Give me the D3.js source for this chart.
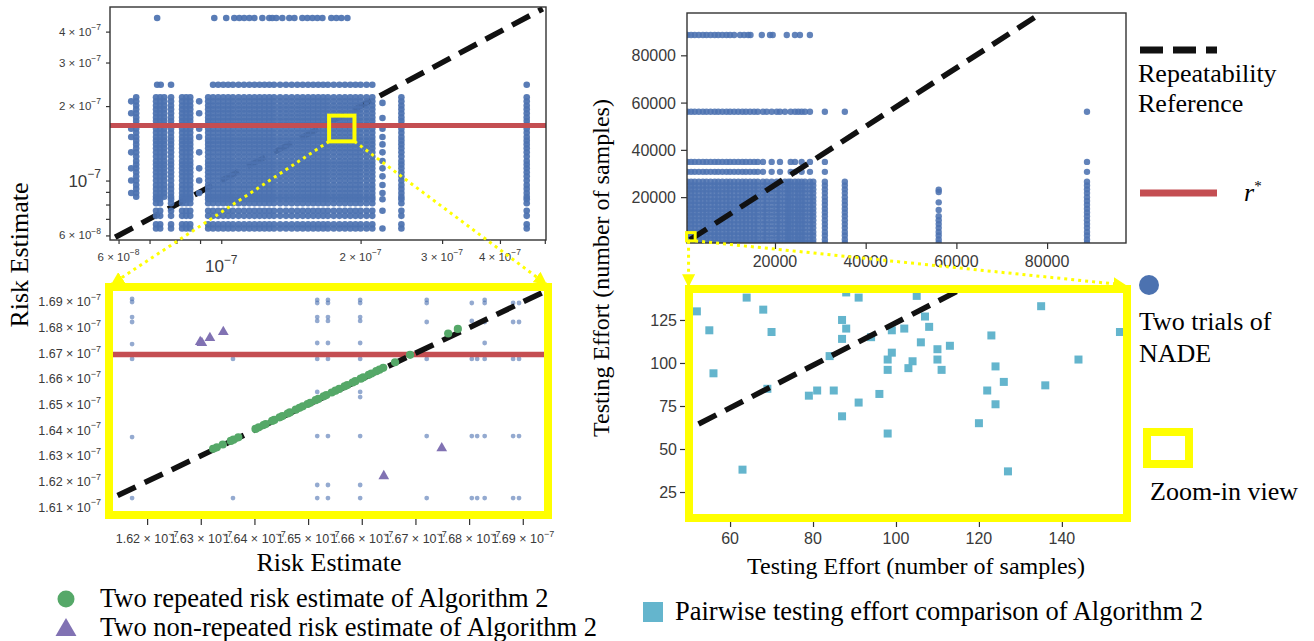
<!DOCTYPE html>
<html><head><meta charset="utf-8">
<script src="https://cdn.jsdelivr.net/npm/d3@7"></script>
<style>body{margin:0;background:#fff;}svg{display:block;}</style>
</head><body>
<svg id="c" width="1314" height="641"></svg>
<script>
// ================= DATA =================
// Risk estimates are in units of 1e-7
const rStar = 1.6695;
const riskDomain = [0.575, 5.03];
const riskTickValuesX = [0.6, 0.7, 0.8, 0.9, 1, 2, 3, 4, 5];
const riskTickValuesY = [0.6, 0.7, 0.8, 0.9, 1, 2, 3, 4];
const riskTickLabels = [0.6, 1, 2, 3, 4];
const riskRefLine = [0.59, 4.95];

// NADE two-trial risk estimates (trial 1 -> x, trial 2 -> y), discrete levels
const coreTrial1 = [0.96, 0.985, 1.01, 1.035, 1.06, 1.09, 1.12, 1.15, 1.18, 1.21, 1.24, 1.27, 1.30, 1.34, 1.38, 1.42, 1.46, 1.50, 1.54, 1.58, 1.62, 1.66, 1.70, 1.75, 1.80, 1.85, 1.90, 1.95, 2.00, 2.06, 2.12];
const coreTrial2 = [0.86, 0.89, 0.925, 0.96, 1.0, 1.04, 1.08, 1.12, 1.16, 1.2, 1.25, 1.3, 1.35, 1.4, 1.45, 1.5, 1.56, 1.62, 1.68, 1.74, 1.8, 1.87, 1.94, 2.01, 2.09, 2.17];
const lowTrial2 = [0.84, 0.81, 0.755, 0.72, 0.665, 0.64];
const leftTrial1 = [0.655, 0.723, 0.738, 0.753, 0.779, 0.823, 0.840, 0.857, 0.937];
const leftLowTrial1 = [0.723, 0.738, 0.779, 0.823, 0.840, 0.857, 0.937];
const sparseTrial1 = [0.639, 0.896];
const sparseTrial2 = [0.89, 1.0, 1.12, 1.3, 1.5, 1.62, 1.87, 2.09];
const topRowTrial1 = [0.727, 0.966, 1.025, 1.067, 1.094, 1.121, 1.15, 1.179, 1.227, 1.27, 1.289, 1.315, 1.355, 1.403, 1.439, 1.497, 1.535, 1.574, 1.613, 1.654, 1.729, 1.773, 1.818, 1.873];
const topRowTrial2 = [4.54];
const midRowTrial1 = [0.727, 0.74, 0.779, 4.57];
const midRowTrial2 = [2.44];
const sparseRightTrial1 = [2.23];
const sparseRightTrial2 = [2.06, 1.79, 1.62, 1.5, 1.4, 1.3, 1.2, 1.12, 1.04, 0.96, 0.89, 0.84, 0.755, 0.64];
const denseRightTrial1 = [2.45, 4.57];
const zoomBoxTL = {x: [1.71, 1.94], y: [1.44, 1.83]};

// Zoom-in view of risk estimates
const zoomDomainX = [1.6129, 1.6947];
const zoomDomainY = [1.6069, 1.69585];
const zoomTicksX = [1.62, 1.63, 1.64, 1.65, 1.66, 1.67, 1.68, 1.69];
const zoomTicksY = [1.61, 1.62, 1.63, 1.64, 1.65, 1.66, 1.67, 1.68, 1.69];
const zoomRefLine = [1.6145, 1.6940];
const zoomBlueTrial1 = [1.6172, 1.6360, 1.6517, 1.6537, 1.6597, 1.6721, 1.6805, 1.6815, 1.6829, 1.6882, 1.6893];
const zoomBlueTrial2 = [
  [1.6912, 1.6900, 1.6841, 1.6822, 1.6736, 1.6678, 1.6373, 1.6135],
  [1.6678, 1.6135],
  [1.6908, 1.6896, 1.6841, 1.6826, 1.6740, 1.6678, 1.6549, 1.6377, 1.6186, 1.6135],
  [1.6908, 1.6896, 1.6841, 1.6826, 1.6740, 1.6678, 1.6377, 1.6186, 1.6135],
  [1.6908, 1.6896, 1.6841, 1.6826, 1.6740, 1.6678, 1.6549, 1.6529, 1.6377, 1.6186, 1.6135],
  [1.6908, 1.6896, 1.6822, 1.6678, 1.6377, 1.6135],
  [1.6896, 1.6826, 1.6678, 1.6377, 1.6135],
  [1.6678, 1.6377, 1.6135],
  [1.6908, 1.6896, 1.6822, 1.6740, 1.6678, 1.6377, 1.6135],
  [1.6896, 1.6822, 1.6678, 1.6377, 1.6135],
  [1.6896, 1.6822, 1.6678, 1.6377, 1.6135]
];
const repeatedTrial1 = [1.6323, 1.6330, 1.6341, 1.6356, 1.6361, 1.6370, 1.6402, 1.6408, 1.6417, 1.6421, 1.6433, 1.6437, 1.6447, 1.6452, 1.6462, 1.6466, 1.6477, 1.6484, 1.6490, 1.6499, 1.6504, 1.6514, 1.6519, 1.6529, 1.6534, 1.6544, 1.6551, 1.6558, 1.6568, 1.6573, 1.6583, 1.6588, 1.6598, 1.6603, 1.6613, 1.6618, 1.6627, 1.6633, 1.6640, 1.6662, 1.6690, 1.6761, 1.6779];
const repeatedTrial2 = [1.6327, 1.6333, 1.6344, 1.6358, 1.6363, 1.6372, 1.6405, 1.6411, 1.6420, 1.6424, 1.6436, 1.6440, 1.6450, 1.6455, 1.6465, 1.6469, 1.6480, 1.6487, 1.6493, 1.6502, 1.6507, 1.6517, 1.6522, 1.6532, 1.6537, 1.6547, 1.6554, 1.6561, 1.6571, 1.6576, 1.6586, 1.6591, 1.6601, 1.6606, 1.6616, 1.6621, 1.6630, 1.6636, 1.6643, 1.6665, 1.6694, 1.6777, 1.6795];
const nonRepeatedTrial1 = [1.6299, 1.6302, 1.6317, 1.6342, 1.6641, 1.6749];
const nonRepeatedTrial2 = [1.6744, 1.6740, 1.6760, 1.6783, 1.6221, 1.6330];

// Testing effort (number of samples), two trials of NADE
const effortDomainX = [600, 97400];
const effortDomainY = [600, 97900];
const effortTicks = [20000, 40000, 60000, 80000];
const effortRefLine = [[1250, 1950], [77800, 96700]];
const effortDenseT1 = [700, 1500, 2300, 3200, 4100, 4900, 5800, 6700, 7500, 8400, 9300, 10100, 11000, 11900, 12800, 13600, 14500, 15400, 16200];
const effortDenseT2 = [700, 2100, 3800, 5300, 7000, 8600, 10200, 11900, 13500, 15100, 16800, 18400, 20000, 21700, 23300, 24900, 26500];
const effortMidT1 = [17350, 18170, 19270, 20380, 21100, 22200, 22930, 23460, 24410, 25140, 25880, 26610, 27710, 28440];
const effortHighT2 = [30700, 34900];
const effortHighRowT1 = [17350, 19270, 21100, 23460, 24410, 25880, 27710, 31000];
const effort56RowT1 = [17350, 18170, 19270, 20380, 21100, 22200, 23460, 24410, 25140, 25880, 26610, 27710, 31000, 35400, 88800];
const effort88RowT1 = [700, 1500, 2300, 3200, 4100, 4900, 5800, 6700, 7500, 8400, 9300, 10100, 11000, 12300, 13200, 14100, 14600, 17100, 18900, 19500, 22600, 24400, 25500, 27700];
const effortFarT1 = [31000, 35400, 88800];
const effort56ColT2 = [700, 2100, 3800, 5300, 7000, 8600, 10200, 11900, 14600, 17800, 22200, 23100];
const effortZoomBox = {x: [500, 2400], y: [1500, 5000]};

// Pairwise testing effort comparison of Algorithm 2
const pairDomainX = [50.1, 155.7];
const pairDomainY = [9.9, 143];
const pairTicksX = [60, 80, 100, 120, 140];
const pairTicksY = [25, 50, 75, 100, 125];
const pairRefLine = [[52.4, 64.5], [114.6, 141.5]];
const pairTrial1 = [52, 55, 56, 64, 68, 70, 63, 69, 79, 81, 85, 84, 87, 88, 87, 87, 88, 91, 91, 94, 105, 107, 108, 99, 102, 106, 110, 113, 99, 98, 98, 104, 103, 110, 111, 96, 98, 123, 124, 126, 122, 124, 120, 127, 135, 136, 144, 154];
const pairTrial2 = [130, 119, 94, 138, 131, 118, 38, 85, 81, 84, 84, 104, 125, 120, 114, 69, 141, 138, 77, 115, 139, 127, 121, 119, 120, 112, 108, 110, 106, 102, 96, 101, 97, 102, 96, 82, 59, 116, 98, 89, 84, 76, 65, 37, 133, 87, 102, 118];

// ================= STYLE =================
const SANS = "'Liberation Sans', Arial, Helvetica, sans-serif";
const SERIF = "'Liberation Serif', 'Times New Roman', serif";
const BLUE = "#4c72b0", RED = "#c44e52", GREEN = "#55a868", PURPLE = "#8172b3", CYAN = "#64b5cd", YEL = "#ffff00";
const TICK = "#3a3a3a", FRAME = "#333";

const svg = d3.select("#c");
const defs = svg.append("defs");
defs.append("marker").attr("id", "arr").attr("viewBox", "0 0 10 10").attr("refX", 9).attr("refY", 5)
  .attr("markerWidth", 13).attr("markerHeight", 13).attr("markerUnits", "userSpaceOnUse").attr("orient", "auto")
  .append("path").attr("d", "M0,0 L10,5 L0,10 z").attr("fill", YEL);

function clip(id, x0, y0, x1, y1) {
  defs.append("clipPath").attr("id", id).append("rect").attr("x", x0).attr("y", y0).attr("width", x1 - x0).attr("height", y1 - y0);
  return "url(#" + id + ")";
}
function cross(t1, t2) { return t1.flatMap(a => t2.map(b => [a, b])); }
function tickLines(axis, transform, vals, size) {
  const g = svg.append("g").attr("transform", transform)
    .call(axis.tickValues(vals).tickSize(size).tickFormat(() => ""));
  g.select(".domain").remove();
  g.selectAll(".tick text").remove();
  g.selectAll(".tick line").attr("stroke", FRAME).attr("stroke-width", 1.2);
  return g;
}
function sciLabel(x, y, anchor, mant, exp, fs, efs) {
  const t = svg.append("text").attr("x", x).attr("y", y).attr("text-anchor", anchor)
    .attr("font-family", SANS).attr("font-size", fs).attr("fill", TICK);
  t.append("tspan").text(mant === "" ? "10" : mant + " \u00d7 10");
  t.append("tspan").attr("font-size", efs).attr("dy", -fs * 0.5).text("\u2212" + exp);
}
function plainLabel(x, y, anchor, txt, fs) {
  svg.append("text").attr("x", x).attr("y", y).attr("text-anchor", anchor)
    .attr("font-family", SANS).attr("font-size", fs).attr("fill", TICK).text(txt);
}
function riskParts(v) {
  if (v === 1) return {m: "", e: 7, major: true};
  if (v < 1) return {m: String(Math.round(v * 10)), e: 8, major: false};
  return {m: String(v), e: 7, major: false};
}

// ================= TOP-LEFT: Risk estimates (log-log) =================
const tlX = d3.scaleLog().domain(riskDomain).range([110, 546]);
const tlY = d3.scaleLog().domain(riskDomain).range([240, 7]);
const tlClip = clip("cTL", 110, 7, 546, 240);
const tlG = svg.append("g").attr("clip-path", tlClip);

tlG.append("line")
  .attr("x1", tlX(riskRefLine[0])).attr("y1", tlY(riskRefLine[0]))
  .attr("x2", tlX(riskRefLine[1])).attr("y2", tlY(riskRefLine[1]))
  .attr("stroke", "#111").attr("stroke-width", 5.5).attr("stroke-dasharray", "20,10");

const nadeRiskPoints = [].concat(
  cross(coreTrial1, coreTrial2.concat(lowTrial2)),
  cross(leftTrial1, coreTrial2),
  cross(leftLowTrial1, lowTrial2),
  cross(sparseTrial1, sparseTrial2),
  cross(topRowTrial1, topRowTrial2),
  cross(midRowTrial1.concat(coreTrial1), midRowTrial2),
  cross(sparseRightTrial1, sparseRightTrial2),
  cross(denseRightTrial1, coreTrial2.concat(lowTrial2))
);
tlG.append("g").selectAll("circle").data(nadeRiskPoints).join("circle")
  .attr("cx", d => tlX(d[0])).attr("cy", d => tlY(d[1])).attr("r", 3.3)
  .attr("fill", BLUE).attr("fill-opacity", 0.93);

tlG.append("line").attr("x1", 110).attr("x2", 546).attr("y1", tlY(rStar)).attr("y2", tlY(rStar))
  .attr("stroke", RED).attr("stroke-width", 5);

svg.append("rect").attr("x", 110).attr("y", 7).attr("width", 436).attr("height", 233)
  .attr("fill", "none").attr("stroke", FRAME).attr("stroke-width", 1.4);
tickLines(d3.axisBottom(tlX), "translate(0,240)", riskTickValuesX, 4);
tickLines(d3.axisLeft(tlY), "translate(110,0)", riskTickValuesY, 4);
riskTickLabels.forEach(v => {
  const p = riskParts(v);
  if (p.major) {
    sciLabel(tlX(v), 272, "middle", "", p.e, 17, 12);
    sciLabel(101, tlY(v) + 6, "end", "", p.e, 17, 12);
  } else {
    sciLabel(tlX(v), 261, "middle", p.m, p.e, 11.5, 8.5);
    sciLabel(101, tlY(v) + 4, "end", p.m, p.e, 11.5, 8.5);
  }
});
// zoom box
const zbx0 = tlX(zoomBoxTL.x[0]), zbx1 = tlX(zoomBoxTL.x[1]);
const zby0 = tlY(zoomBoxTL.y[1]), zby1 = tlY(zoomBoxTL.y[0]);
svg.append("rect").attr("x", zbx0).attr("y", zby0).attr("width", zbx1 - zbx0).attr("height", zby1 - zby0)
  .attr("fill", "none").attr("stroke", YEL).attr("stroke-width", 4);

// ================= BOTTOM-LEFT: zoom-in view =================
const blX = d3.scaleLinear().domain(zoomDomainX).range([109, 548]);
const blY = d3.scaleLinear().domain(zoomDomainY).range([515, 287]);
const blClip = clip("cBL", 109, 287, 548, 515);
const blG = svg.append("g").attr("clip-path", blClip);
const zoomBluePoints = zoomBlueTrial1.flatMap((a, i) => zoomBlueTrial2[i].map(b => [a, b]));
blG.append("g").selectAll("circle").data(zoomBluePoints).join("circle")
  .attr("cx", d => blX(d[0])).attr("cy", d => blY(d[1])).attr("r", 2.4)
  .attr("fill", BLUE).attr("fill-opacity", 0.6);
blG.append("line").attr("x1", 109).attr("x2", 548).attr("y1", blY(rStar)).attr("y2", blY(rStar))
  .attr("stroke", RED).attr("stroke-width", 5.5);
blG.append("line")
  .attr("x1", blX(zoomRefLine[0])).attr("y1", blY(zoomRefLine[0]))
  .attr("x2", blX(zoomRefLine[1])).attr("y2", blY(zoomRefLine[1]))
  .attr("stroke", "#111").attr("stroke-width", 5.5).attr("stroke-dasharray", "20,10");
blG.append("g").selectAll("circle").data(repeatedTrial1).join("circle")
  .attr("cx", d => blX(d)).attr("cy", (d, i) => blY(repeatedTrial2[i])).attr("r", 4.1).attr("fill", GREEN);
blG.append("g").selectAll("path").data(nonRepeatedTrial1).join("path")
  .attr("d", d3.symbol(d3.symbolTriangle, 50))
  .attr("transform", (d, i) => `translate(${blX(d)},${blY(nonRepeatedTrial2[i])})`).attr("fill", PURPLE);
svg.append("rect").attr("x", 109).attr("y", 287).attr("width", 439).attr("height", 228)
  .attr("fill", "none").attr("stroke", YEL).attr("stroke-width", 8);
tickLines(d3.axisBottom(blX), "translate(0,519)", zoomTicksX, 6);
zoomTicksX.forEach(v => sciLabel(blX(v), 543, "middle", v.toFixed(2), 7, 12.5, 9));
zoomTicksY.forEach(v => sciLabel(101, blY(v) + 4.5, "end", v.toFixed(2), 7, 12.5, 9));

// ================= TOP-RIGHT: testing effort =================
const trX = d3.scaleLinear().domain(effortDomainX).range([687, 1126]);
const trY = d3.scaleLinear().domain(effortDomainY).range([243, 13]);
const trClip = clip("cTR", 687, 13, 1126, 243);
const trG = svg.append("g").attr("clip-path", trClip);
const effortPoints = [].concat(
  cross(effortDenseT1, effortDenseT2),
  cross(effortMidT1, effortDenseT2),
  cross(effortDenseT1.concat(effortHighRowT1), effortHighT2),
  cross(effortDenseT1.concat(effort56RowT1), [56100]),
  cross(effort88RowT1, [88600]),
  cross(effortFarT1, effortDenseT2),
  cross([56100], effort56ColT2),
  cross([88800], effortHighT2)
);
trG.append("g").selectAll("circle").data(effortPoints).join("circle")
  .attr("cx", d => trX(d[0])).attr("cy", d => trY(d[1])).attr("r", 3.2)
  .attr("fill", BLUE).attr("fill-opacity", 0.88);
trG.append("line")
  .attr("x1", trX(effortRefLine[0][0])).attr("y1", trY(effortRefLine[0][1]))
  .attr("x2", trX(effortRefLine[1][0])).attr("y2", trY(effortRefLine[1][1]))
  .attr("stroke", "#111").attr("stroke-width", 5.5).attr("stroke-dasharray", "20,10");
svg.append("rect").attr("x", 687).attr("y", 13).attr("width", 439).attr("height", 230)
  .attr("fill", "none").attr("stroke", FRAME).attr("stroke-width", 1.4);
tickLines(d3.axisBottom(trX), "translate(0,243)", effortTicks, 6);
tickLines(d3.axisLeft(trY), "translate(687,0)", effortTicks, 6);
effortTicks.forEach(v => {
  plainLabel(trX(v), 267, "middle", String(v), 16);
  plainLabel(676, trY(v) + 6, "end", String(v), 16);
});
const ezx0 = trX(effortZoomBox.x[0]), ezx1 = trX(effortZoomBox.x[1]);
const ezy0 = trY(effortZoomBox.y[1]), ezy1 = trY(effortZoomBox.y[0]);
svg.append("rect").attr("x", ezx0).attr("y", ezy0).attr("width", ezx1 - ezx0).attr("height", ezy1 - ezy0)
  .attr("fill", "none").attr("stroke", YEL).attr("stroke-width", 3);

// ================= BOTTOM-RIGHT: pairwise effort =================
const brX = d3.scaleLinear().domain(pairDomainX).range([689, 1127]);
const brY = d3.scaleLinear().domain(pairDomainY).range([518, 289]);
const brClip = clip("cBR", 689, 289, 1127, 518);
const brG = svg.append("g").attr("clip-path", brClip);
brG.append("g").selectAll("rect").data(pairTrial1).join("rect")
  .attr("x", d => brX(d) - 4).attr("y", (d, i) => brY(pairTrial2[i]) - 4)
  .attr("width", 8).attr("height", 8).attr("fill", CYAN);
brG.append("line")
  .attr("x1", brX(pairRefLine[0][0])).attr("y1", brY(pairRefLine[0][1]))
  .attr("x2", brX(pairRefLine[1][0])).attr("y2", brY(pairRefLine[1][1]))
  .attr("stroke", "#111").attr("stroke-width", 5.5).attr("stroke-dasharray", "20,10");
svg.append("rect").attr("x", 689).attr("y", 289).attr("width", 438).attr("height", 229)
  .attr("fill", "none").attr("stroke", YEL).attr("stroke-width", 8);
tickLines(d3.axisBottom(brX), "translate(0,522)", pairTicksX, 5);
tickLines(d3.axisLeft(brY), "translate(685,0)", pairTicksY, 5);
pairTicksX.forEach(v => plainLabel(brX(v), 544, "middle", String(v), 16));
pairTicksY.forEach(v => plainLabel(677, brY(v) + 6, "end", String(v), 16));

// ================= connectors =================
function dotted(x1, y1, x2, y2) {
  svg.append("line").attr("x1", x1).attr("y1", y1).attr("x2", x2).attr("y2", y2)
    .attr("stroke", YEL).attr("stroke-width", 3).attr("stroke-dasharray", "3,4")
    .attr("marker-end", "url(#arr)");
}
dotted(zbx0, zby1, blX(zoomDomainX[0]) + 3, blY(zoomDomainY[1]) - 3);
dotted(zbx1, zby1, blX(zoomDomainX[1]) - 2, blY(zoomDomainY[1]) - 3);
dotted(ezx0 + 2, ezy1, ezx0 + 2, brY(pairDomainY[1]) - 3);
dotted(ezx1, ezy1, brX(pairDomainX[1]) - 2, brY(pairDomainY[1]) - 4);

// ================= axis titles =================
function title(x, y, txt, fs, rot) {
  svg.append("text").attr("transform", `translate(${x},${y})` + (rot ? " rotate(-90)" : ""))
    .attr("text-anchor", "middle").attr("font-family", SERIF).attr("font-size", fs).attr("fill", "#000").text(txt);
}
title(28, 255, "Risk Estimate", 26, true);
title(329, 571, "Risk Estimate", 26, false);
title(609, 268, "Testing Effort (number of samples)", 24, true);
title(916, 574, "Testing Effort (number of samples)", 24, false);

// ================= legends =================
function ltext(x, y, txt, fs) {
  svg.append("text").attr("x", x).attr("y", y).attr("font-family", SERIF).attr("font-size", fs).attr("fill", "#000").text(txt);
}
svg.append("line").attr("x1", 1140).attr("x2", 1217).attr("y1", 50).attr("y2", 50)
  .attr("stroke", "#111").attr("stroke-width", 7).attr("stroke-dasharray", "23,10");
ltext(1138, 82, "Repeatability", 26);
ltext(1138, 112, "Reference", 26);
svg.append("line").attr("x1", 1140).attr("x2", 1217).attr("y1", 193).attr("y2", 193)
  .attr("stroke", RED).attr("stroke-width", 7);
const rs = svg.append("text").attr("x", 1244).attr("y", 201).attr("font-family", SERIF).attr("font-size", 26).attr("fill", "#000");
rs.append("tspan").attr("font-style", "italic").text("r");
rs.append("tspan").attr("font-size", 15).attr("dy", -10).text("*");
svg.append("circle").attr("cx", 1149).attr("cy", 285).attr("r", 10).attr("fill", BLUE);
ltext(1139, 330, "Two trials of", 26);
ltext(1139, 362, "NADE", 26);
svg.append("rect").attr("x", 1147).attr("y", 432).attr("width", 42).attr("height", 32)
  .attr("fill", "none").attr("stroke", YEL).attr("stroke-width", 8);
ltext(1150, 500, "Zoom-in view", 26);

svg.append("circle").attr("cx", 66).attr("cy", 599).attr("r", 8.5).attr("fill", GREEN);
ltext(100, 607, "Two repeated risk estimate of Algorithm 2", 26.5);
svg.append("path").attr("d", d3.symbol(d3.symbolTriangle, 190)).attr("transform", "translate(66,630)").attr("fill", PURPLE);
ltext(100, 636, "Two non-repeated risk estimate of Algorithm 2", 26.5);
svg.append("rect").attr("x", 643).attr("y", 602).attr("width", 20).attr("height", 20).attr("fill", CYAN);
ltext(675, 620, "Pairwise testing effort comparison of Algorithm 2", 26.5);
</script>
</body></html>
